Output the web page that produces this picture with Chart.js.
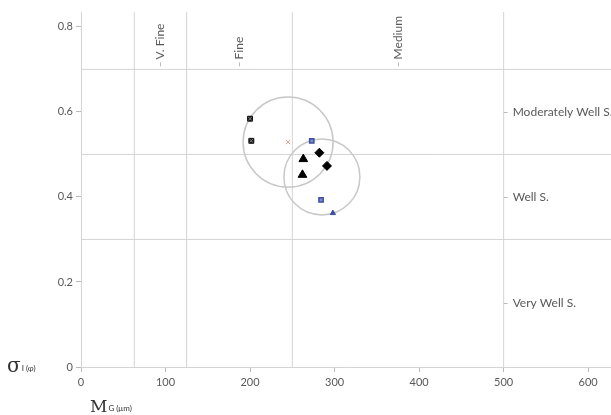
<!DOCTYPE html>
<html><head><meta charset="utf-8">
<script src="https://cdn.jsdelivr.net/npm/chart.js@4/dist/chart.umd.min.js"></script>
<style>html,body{margin:0;padding:0;background:#fff}#wrap{width:611px;height:415px;position:relative}</style>
</head><body><div id="wrap"><canvas id="c" width="611" height="415"></canvas></div>
<script>
// axis ranges and ticks
const xMin = 0, xMax = 627, yMin = 0, yMax = 0.835;
const xStep = 100, yStep = 0.2;
// class boundaries
const sizeBounds = [63, 125, 250, 500];
const sortBounds = [0.3, 0.5, 0.7];
// class labels and their positions
const sizeClasses = ['V. Fine', 'Fine', 'Medium'];
const sizeClassPos = [94, 187.5, 375];
const sortClasses = ['Very Well S.', 'Well S.', 'Moderately Well S.'];
const sortClassPos = [0.15, 0.4, 0.6];
// sample groups: Mg (µm) and sigma
const grpSquareM = [200, 201.5];
const grpSquareS = [0.584, 0.532];
const grpBlueSqM = [273, 284];
const grpBlueSqS = [0.532, 0.393];
const grpBlueTriM = [298];
const grpBlueTriS = [0.362];
const grpDiamondM = [282, 291];
const grpDiamondS = [0.504, 0.473];
const grpTriM = [263, 262];
const grpTriS = [0.489, 0.452];
// group envelope circles (centres)
const circleM = [245, 285];
const circleS = [0.529, 0.447];

const pts = (xs, ys) => xs.map((x, i) => ({x, y: ys[i]}));
const datasets = [];
sizeBounds.forEach(b => datasets.push({type:'line', order:10, data:[{x:b,y:yMin},{x:b,y:yMax}], borderColor:'#d4d4d4', borderWidth:1, pointRadius:0, fill:false}));
sortBounds.forEach(b => datasets.push({type:'line', order:10, data:[{x:xMin,y:b},{x:xMax,y:b}], borderColor:'#d4d4d4', borderWidth:1, pointRadius:0, fill:false}));
datasets.push({type:'scatter', order:8, data: pts(circleM, circleS), pointRadius:[45,38], pointStyle:'circle', backgroundColor:'rgba(0,0,0,0)', borderColor:'#c8c8c8', borderWidth:1.5});
datasets.push({type:'scatter', order:7, data: pts([circleM[0]], [circleS[0]]), pointRadius:3, pointStyle:'crossRot', borderColor:'#e89a9a', borderWidth:1});
datasets.push({type:'scatter', order:6, data: pts(grpSquareM, grpSquareS), pointRadius:3.5, pointStyle:'rect', backgroundColor:'#111', borderColor:'#111', borderWidth:1});
datasets.push({type:'scatter', order:5, data: pts(grpSquareM, grpSquareS), pointRadius:2.5, pointStyle:'crossRot', borderColor:'#888', borderWidth:1});
datasets.push({type:'scatter', order:4, data: pts(grpBlueSqM, grpBlueSqS), pointRadius:3, pointStyle:'rect', backgroundColor:'#7f8cc8', borderColor:'#3d4fa3', borderWidth:1.5});
datasets.push({type:'scatter', order:3, data: pts(grpBlueTriM, grpBlueTriS), pointRadius:3, pointStyle:'triangle', backgroundColor:'#3d4fa3', borderColor:'#3d4fa3', borderWidth:1});
datasets.push({type:'scatter', order:2, data: pts(grpDiamondM, grpDiamondS), pointRadius:4.5, pointStyle:'rectRot', backgroundColor:'#000', borderColor:'#000', borderWidth:1});
datasets.push({type:'scatter', order:1, data: pts(grpTriM, grpTriS), pointRadius:5, pointStyle:'triangle', backgroundColor:'#000', borderColor:'#000', borderWidth:1});

const FONT = 'Lato, "Open Sans", sans-serif';
const annot = {
  id: 'annot',
  afterDatasetsDraw(chart) {
    const ctx = chart.ctx, xs = chart.scales.x, ys = chart.scales.y;
    ctx.save();
    ctx.fillStyle = '#595959'; ctx.strokeStyle = '#bbbbbb'; ctx.lineWidth = 1;
    ctx.font = '12px ' + FONT;
    // size classes (rotated) above top sorting boundary
    const yTop = ys.getPixelForValue(sortBounds[sortBounds.length-1]);
    sizeClasses.forEach((t, i) => {
      const px = Math.round(xs.getPixelForValue(sizeClassPos[i])) + 0.5;
      ctx.beginPath(); ctx.moveTo(px, yTop - 7); ctx.lineTo(px, yTop - 3); ctx.stroke();
      ctx.save(); ctx.translate(px, yTop - 10); ctx.rotate(-Math.PI/2);
      ctx.textAlign = 'left'; ctx.textBaseline = 'middle'; ctx.fillText(t, 0, 0); ctx.restore();
    });
    // sorting classes to the right of last size boundary
    const xR = xs.getPixelForValue(sizeBounds[sizeBounds.length-1]);
    sortClasses.forEach((t, i) => {
      const py = Math.round(ys.getPixelForValue(sortClassPos[i])) + 0.5;
      ctx.beginPath(); ctx.moveTo(xR, py); ctx.lineTo(xR + 4, py); ctx.stroke();
      ctx.textAlign = 'left'; ctx.textBaseline = 'middle'; ctx.fillText(t, xR + 9, py);
    });
    // axis titles
    ctx.fillStyle = '#333';
    ctx.textBaseline = 'alphabetic'; ctx.textAlign = 'left';
    const y0 = ys.getPixelForValue(0);
    ctx.font = '20px "DejaVu Serif", serif'; ctx.fillText('σ', 7, y0 + 5);
    let w = ctx.measureText('σ').width;
    ctx.font = '8px ' + FONT; ctx.fillText('I (φ)', 7 + w + 1, y0 + 4);
    ctx.font = '17px "DejaVu Serif", serif'; ctx.fillText('M', 90, 412);
    w = ctx.measureText('M').width;
    ctx.font = '8px ' + FONT; ctx.fillText('G (μm)', 90 + w + 1, 411);
    ctx.restore();
  }
};

new Chart(document.getElementById('c'), {
  data: { datasets },
  options: {
    responsive: false, animation: false,
    layout: { autoPadding: false, padding: { top: 12, right: 0, left: 0, bottom: 0 } },
    plugins: { legend: { display: false }, tooltip: { enabled: false } },
    scales: {
      x: { type: 'linear', min: xMin, max: xMax,
        afterFit: s => { s.height = 48; },
        ticks: { stepSize: xStep, includeBounds: false, color: '#595959', font: { family: FONT, size: 11 }, padding: 4, maxRotation: 0 },
        grid: { drawOnChartArea: false, tickLength: 5, color: '#bbbbbb' },
        border: { color: '#d4d4d4' } },
      y: { type: 'linear', min: yMin, max: yMax,
        afterFit: s => { s.width = 81; },
        ticks: { stepSize: yStep, includeBounds: false, color: '#595959', font: { family: FONT, size: 11 }, padding: 3 },
        grid: { drawOnChartArea: false, tickLength: 5, color: '#bbbbbb' },
        border: { color: '#d4d4d4' } }
    }
  },
  plugins: [annot]
});
</script></body></html>
